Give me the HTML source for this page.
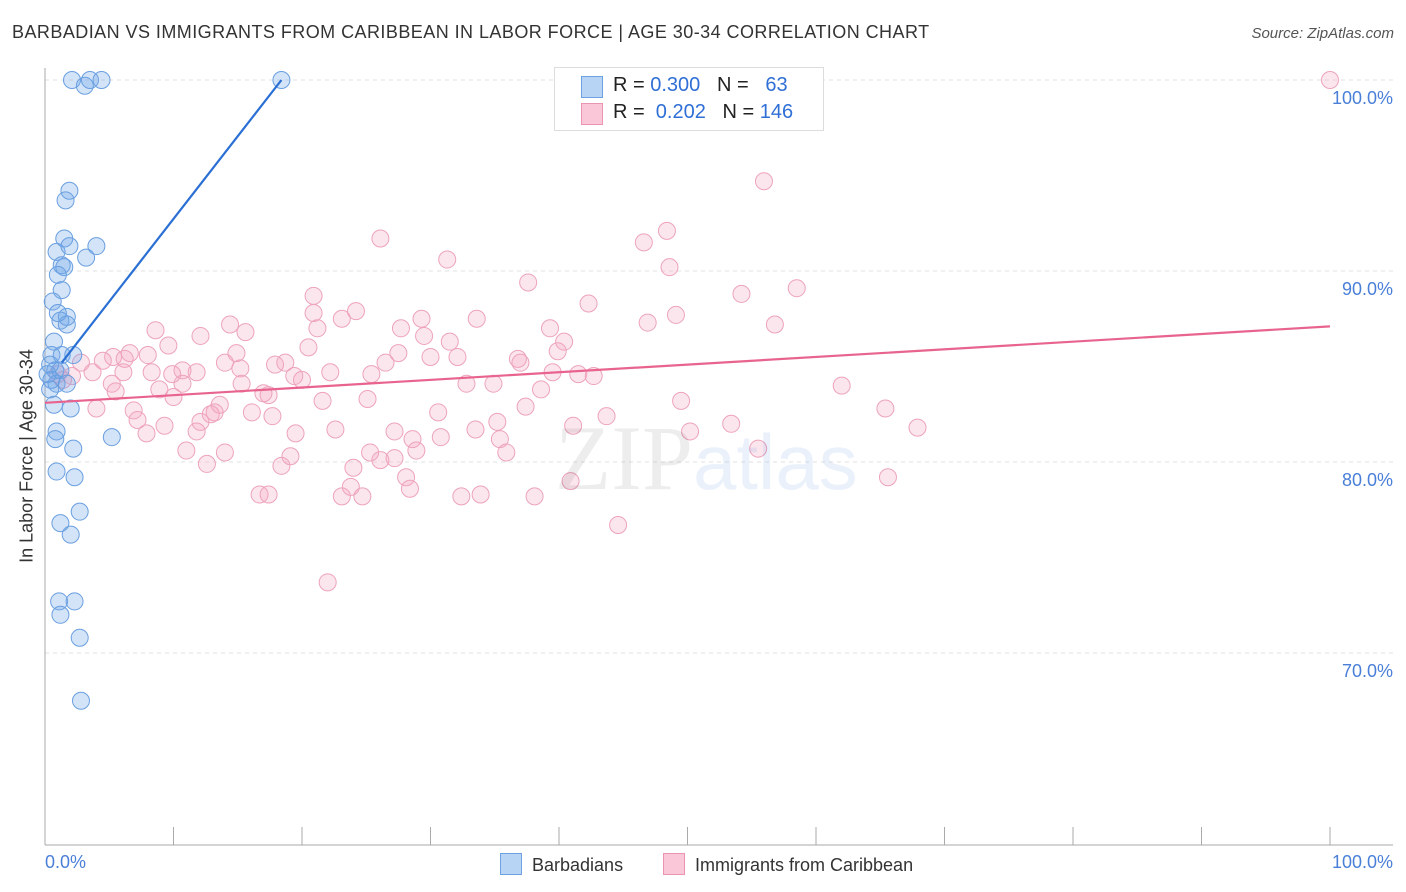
<!DOCTYPE html>
<html><head><meta charset="utf-8"><style>
body{margin:0;background:#fff;font-family:"Liberation Sans",sans-serif}
#wrap{position:relative;width:1406px;height:892px;overflow:hidden}
.t{position:absolute;white-space:nowrap}
</style></head><body>
<div id="wrap">
<div class="t" style="left:12px;top:22px;font-size:18px;color:#333;letter-spacing:0.45px">BARBADIAN VS IMMIGRANTS FROM CARIBBEAN IN LABOR FORCE | AGE 30-34 CORRELATION CHART</div>
<div class="t" style="right:12px;top:25px;font-size:15px;color:#555;font-style:italic">Source: ZipAtlas.com</div>
<svg id="svg" width="1406" height="892" style="position:absolute;left:0;top:0"></svg>
<div class="t" style="left:554px;top:67px;width:268px;height:62px;border:1px solid #ddd;background:#fff;font-size:20px;color:#222">
 <div style="position:absolute;left:26px;top:8px;width:20px;height:20px;background:#b8d4f5;border:1px solid #6ea1e0"></div>
 <div style="position:absolute;left:58px;top:6px">R = <span style="color:#2f6fd6">0.300</span>&nbsp;&nbsp;&nbsp;N = &nbsp;&nbsp;<span style="color:#2f6fd6">63</span></div>
 <div style="position:absolute;left:26px;top:35px;width:20px;height:20px;background:#f9c7d7;border:1px solid #eb93b2"></div>
 <div style="position:absolute;left:58px;top:33px">R = &nbsp;<span style="color:#2f6fd6">0.202</span>&nbsp;&nbsp;&nbsp;N = <span style="color:#2f6fd6">146</span></div>
</div>
<div class="t" style="left:27px;top:456px;font-size:18px;color:#333;transform:translate(-50%,-50%) rotate(-90deg)">In Labor Force | Age 30-34</div>
<div class="t" style="left:45px;top:852px;font-size:18px;color:#4a7fd8">0.0%</div>
<div class="t" style="right:13px;top:852px;font-size:18px;color:#4a7fd8">100.0%</div>
<div class="t" style="left:500px;top:853px;font-size:18px;color:#333"><span style="display:inline-block;width:20px;height:20px;background:#b8d4f5;border:1px solid #6ea1e0;vertical-align:-4px;margin-right:10px"></span>Barbadians</div>
<div class="t" style="left:663px;top:853px;font-size:18px;color:#333"><span style="display:inline-block;width:20px;height:20px;background:#f9c7d7;border:1px solid #eb93b2;vertical-align:-4px;margin-right:10px"></span>Immigrants from Caribbean</div>
<div class="t" style="left:555px;top:405px;font-size:92px;color:rgba(0,0,0,0.07);font-family:'Liberation Serif',serif">ZIP<span style="font-family:'Liberation Sans',sans-serif;color:rgba(80,140,220,0.12);font-size:78px">atlas</span></div>
</div>
<script>
const yTicks=[100,90,80,70];
const yTickLabels=["100.0%","90.0%","80.0%","70.0%"];
const xTicks=[0,10,20,30,40,50,60,70,80,90,100];
const blueX=[2.1,3.1,3.5,4.4,18.4,1.9,1.6,1.5,4.0,0.9,1.9,1.3,1.5,3.2,1.0,1.3,0.6,1.2,1.7,1.7,1.0,0.7,0.5,1.3,2.2,0.4,0.8,1.2,0.2,0.5,0.9,1.7,0.4,0.7,2.0,5.2,0.9,0.8,2.2,0.9,2.3,2.7,1.2,2.0,1.1,2.3,1.2,2.7,2.8];
const blueY=[100,99.7,100,100,100,94.2,93.7,91.7,91.3,91.0,91.3,90.3,90.2,90.7,89.8,89.0,88.4,87.4,87.2,87.6,87.8,86.3,85.6,85.6,85.6,85.1,84.8,84.8,84.6,84.3,84.1,84.1,83.8,83.0,82.8,81.3,81.6,81.2,80.7,79.5,79.2,77.4,76.8,76.2,72.7,72.7,72.0,70.8,67.5];
const pinkX=[100,55.95,48.4,46.6,26.1,31.3,48.6,37.6,20.9,54.2,58.5,42.3,20.9,24.2,23.1,29.3,33.6,46.9,49.1,56.8,14.4,15.6,8.6,12.1,21.2,27.7,29.5,39.3,40.4,9.6,20.5,31.5,14.9,27.5,30.0,32.1,39.9,36.8,37.0,5.3,6.6,8.0,4.5,6.2,14.0,18.7,17.9,2.8,15.2,22.2,25.4,26.5,8.3,6.1,3.7,11.8,10.7,9.9,39.5,41.5,42.7,2.1,1.0,1.4,5.2,10.7,15.3,19.4,20.0,32.8,34.9,38.6,8.9,5.5,10.0,17.4,21.6,25.1,13.6,17.0,49.5,62.0,4.0,6.9,12.9,13.2,16.1,17.7,30.6,37.4,43.7,65.4,7.2,9.3,12.1,11.8,7.9,19.5,22.6,27.2,30.8,33.5,35.2,41.1,50.2,53.4,67.9,11.0,14.0,25.3,28.6,28.9,35.4,35.9,55.5,12.6,18.4,19.1,24.0,26.1,27.2,28.1,28.4,40.9,65.6,16.7,17.4,23.1,23.8,24.7,32.4,33.9,38.1,44.6,22.0];
const pinkY=[100,94.7,92.1,91.5,91.7,90.6,90.2,89.4,88.7,88.8,89.1,88.3,87.8,87.9,87.5,87.5,87.5,87.3,87.7,87.2,87.2,86.8,86.9,86.6,87.0,87.0,86.6,87.0,86.3,86.1,86.0,86.3,85.7,85.7,85.5,85.5,85.8,85.4,85.2,85.5,85.7,85.6,85.3,85.4,85.2,85.2,85.1,85.2,84.9,84.7,84.6,85.2,84.7,84.7,84.7,84.7,84.8,84.6,84.7,84.6,84.5,84.5,84.6,84.3,84.1,84.1,84.1,84.5,84.3,84.1,84.1,83.8,83.8,83.7,83.4,83.5,83.2,83.3,83.0,83.6,83.2,84.0,82.8,82.7,82.5,82.6,82.6,82.4,82.6,82.9,82.4,82.8,82.2,81.9,82.1,81.6,81.5,81.5,81.7,81.6,81.3,81.7,82.1,81.9,81.6,82.0,81.8,80.6,80.5,80.5,81.2,80.6,81.2,80.5,80.7,79.9,79.8,80.3,79.7,80.1,80.2,79.2,78.6,79.0,79.2,78.3,78.3,78.2,78.7,78.2,78.2,78.3,78.2,76.7,73.7];
const blueTrendX=[1.3,18.4], blueTrendY=[85.2,100];
const pinkTrendX=[0,100], pinkTrendY=[83.1,87.1];

const X=v=>45+v*12.85, Y=v=>80+(100-v)*19.1;
const svg=document.getElementById('svg'), NS='http://www.w3.org/2000/svg';
function mk(tag,attrs){const e=document.createElementNS(NS,tag);for(const k in attrs)e.setAttribute(k,attrs[k]);svg.appendChild(e);return e;}
yTicks.forEach((t,i)=>{
 const g=mk('line',{x1:45,x2:1393,y1:Y(t),y2:Y(t),stroke:'#e2e2e2','stroke-dasharray':'4,4'});
 
 
 const tx=mk('text',{x:1393,y:Y(t)+24,'text-anchor':'end','font-size':18,fill:'#4a7fd8','font-family':'Liberation Sans, sans-serif'});
 tx.textContent=yTickLabels[i];
 
 
});
const ax=mk('line',{x1:45,x2:45,y1:68,y2:845,stroke:'#aaa'});


const bx=mk('line',{x1:45,x2:1393,y1:845,y2:845,stroke:'#aaa'});


xTicks.forEach(t=>{
 const l=mk('line',{x1:X(t),x2:X(t),y1:827,y2:845,stroke:'#aaa'});
 
 
});
pinkX.forEach((v,i)=>{
 const c=mk('circle',{cx:X(v),cy:Y(pinkY[i]),r:8.5,fill:'rgba(244,165,192,0.28)',stroke:'#eda3bc','stroke-width':1});
 
 
});
blueX.forEach((v,i)=>{
 const c=mk('circle',{cx:X(v),cy:Y(blueY[i]),r:8.5,fill:'rgba(110,165,232,0.3)',stroke:'#6a9fe0','stroke-width':1});
 
 
});
const pl=mk('line',{x1:X(pinkTrendX[0]),y1:Y(pinkTrendY[0]),x2:X(pinkTrendX[1]),y2:Y(pinkTrendY[1]),stroke:'#e8648f','stroke-width':2.2});


const bl=mk('line',{x1:X(blueTrendX[0]),y1:Y(blueTrendY[0]),x2:X(blueTrendX[1]),y2:Y(blueTrendY[1]),stroke:'#2a6fd4','stroke-width':2.2});


</script>
</body></html>
